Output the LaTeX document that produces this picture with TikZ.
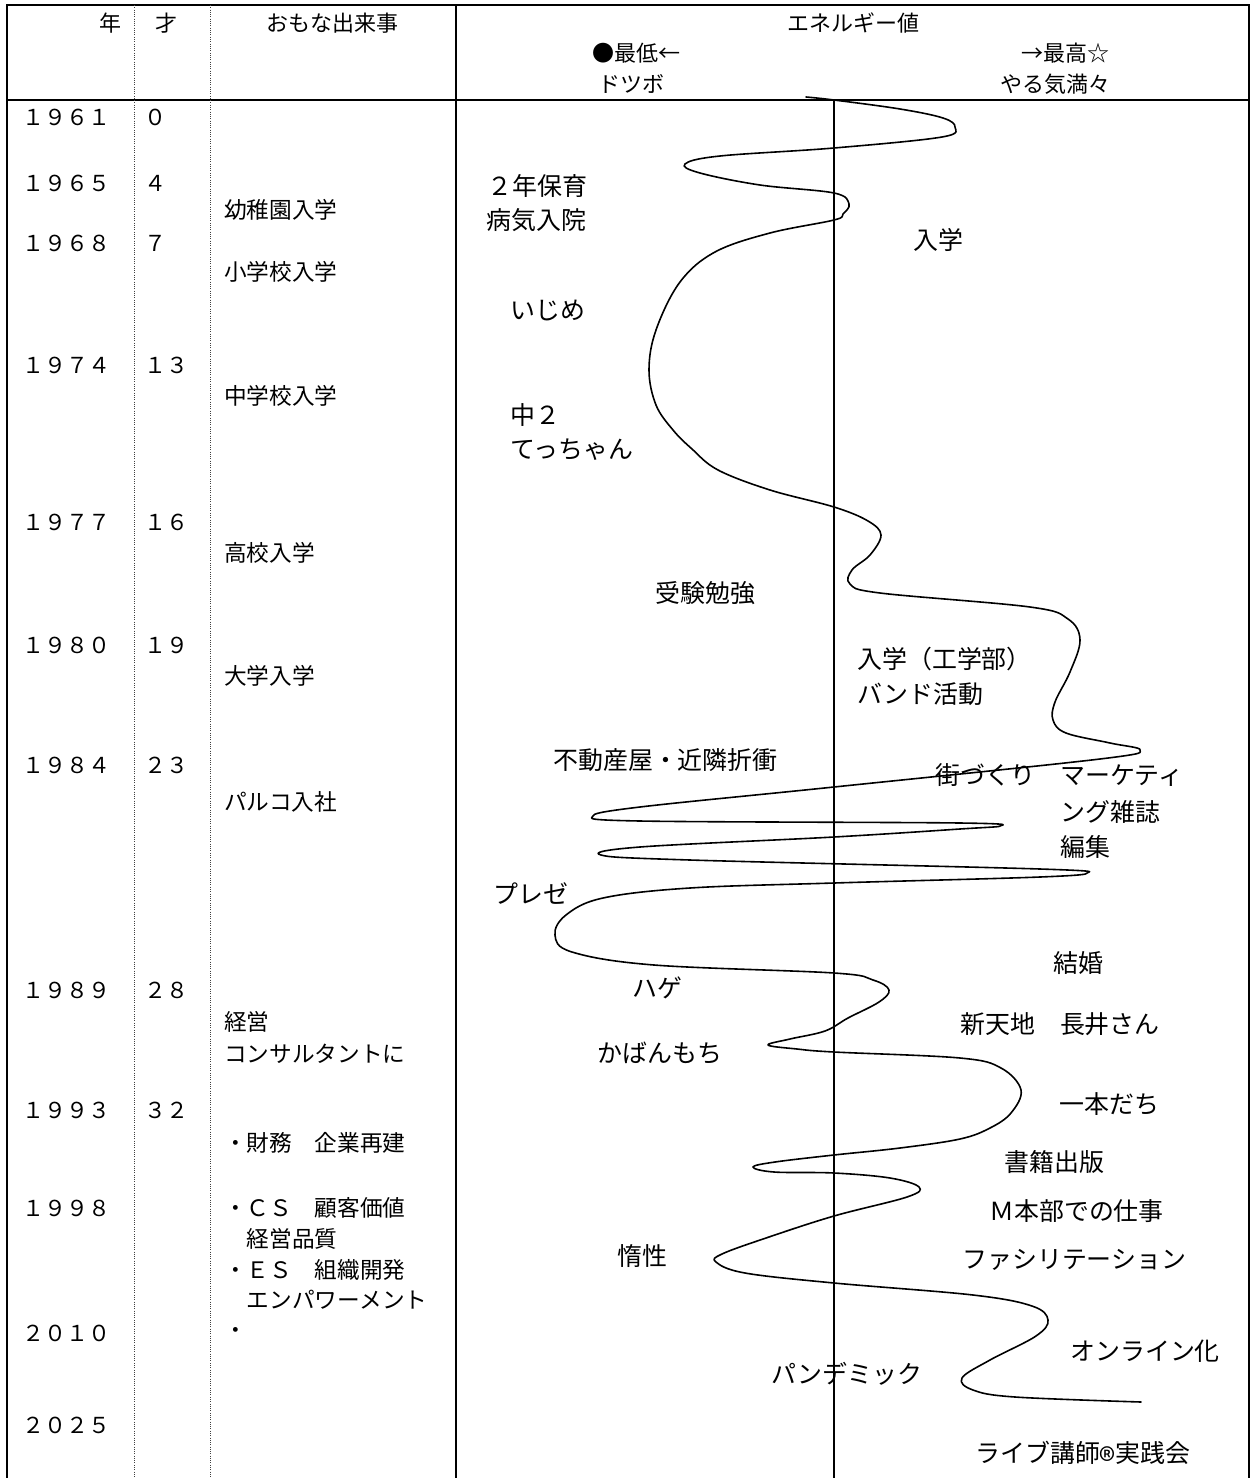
\documentclass[tikz,border=0pt]{standalone}
\usepackage{graphicx}
\usepackage{fontspec}
\setmainfont{Noto Sans CJK JP}
\begin{document}
\begin{tikzpicture}[x=0.75pt,y=-0.75pt,
  txt/.style={anchor=west,inner sep=0pt,font=\fontsize{16.5pt}{20pt}\selectfont},
  evt/.style={anchor=west,inner sep=0pt,font=\fontsize{17pt}{20pt}\selectfont},
  lbl/.style={anchor=west,inner sep=0pt,font=\fontsize{18.7pt}{22pt}\selectfont},
  ctxt/.style={anchor=center,inner sep=0pt,font=\fontsize{16.5pt}{20pt}\selectfont},
  frameline/.style={line width=1.6pt,line cap=rect},
  gridline/.style={line width=1.1pt},
  dotline/.style={densely dotted,line width=0.7pt,black!75},
  curveline/.style={line width=1.2pt,line join=round,line cap=round}]
\useasboundingbox (0,0) rectangle (1250,1478);
% frame
\draw[frameline] (7,1478) -- (7,5) -- (1249,5) -- (1249,1478);
\draw[frameline] (7,100) -- (1249,100);
\draw[gridline] (456,5) -- (456,1478);
\draw[dotline] (134,5) -- (134,1478);
\draw[dotline] (210,5) -- (210,1478);
\draw[gridline] (834,100) -- (834,1478);
% header
\node[ctxt] (hy) at (110,23) {年};
\node[ctxt] (ha) at (166,23) {才};
\node[ctxt] (he) at (332,23) {おもな出来事};
\node[ctxt] (hv) at (853,23) {エネルギー値};
\node[ctxt] (hl1) at (636,53) {●最低←};
\node[ctxt] (hl2) at (631,84) {ドツボ};
\node[ctxt] (hh1) at (1065,53) {→最高☆};
\node[ctxt] (hh2) at (1055,84) {やる気満々};
% years
\node[txt] (y1) at (22,117) {１９６１};
\node[txt] (y2) at (22,183) {１９６５};
\node[txt] (y3) at (22,243) {１９６８};
\node[txt] (y4) at (22,365) {１９７４};
\node[txt] (y5) at (22,522) {１９７７};
\node[txt] (y6) at (22,645) {１９８０};
\node[txt] (y7) at (22,765) {１９８４};
\node[txt] (y8) at (22,990) {１９８９};
\node[txt] (y9) at (22,1110) {１９９３};
\node[txt] (y10) at (22,1208) {１９９８};
\node[txt] (y11) at (22,1333) {２０１０};
\node[txt] (y12) at (22,1425) {２０２５};
% ages
\node[txt] (a1) at (144,117) {０};
\node[txt] (a2) at (144,183) {４};
\node[txt] (a3) at (144,243) {７};
\node[txt] (a4) at (144,365) {１３};
\node[txt] (a5) at (144,522) {１６};
\node[txt] (a6) at (144,645) {１９};
\node[txt] (a7) at (144,765) {２３};
\node[txt] (a8) at (144,990) {２８};
\node[txt] (a9) at (144,1110) {３２};
% events
\node[evt] (e1) at (224,210) {幼稚園入学};
\node[evt] (e2) at (224,272) {小学校入学};
\node[evt] (e3) at (224,396) {中学校入学};
\node[evt] (e4) at (224,553) {高校入学};
\node[evt] (e5) at (224,676) {大学入学};
\node[evt] (e6) at (224,802) {パルコ入社};
\node[evt] (e7) at (224,1022) {経営};
\node[evt] (e8) at (224,1054) {コンサルタントに};
\node[evt] (e9) at (224,1143) {・財務　企業再建};
\node[evt] (e10) at (224,1208) {・ＣＳ　顧客価値};
\node[evt] (e11) at (224,1239) {　経営品質};
\node[evt] (e12) at (224,1270) {・ＥＳ　組織開発};
\node[evt] (e13) at (224,1300) {　エンパワーメント};
\node[evt] (e14) at (224,1333) {・};
% energy labels
\node[lbl] (n1) at (487,186) {２年保育};
\node[lbl] (n2) at (486,220) {病気入院};
\node[lbl] (n3) at (913,240) {入学};
\node[lbl] (n4) at (510,310) {いじめ};
\node[lbl] (n5) at (510,415) {中２};
\node[lbl] (n6) at (510,450) {てっちゃん};
\node[lbl] (n7) at (655,593) {受験勉強};
\node[lbl] (n8) at (857,659) {入学（工学部）};
\node[lbl] (n9) at (857,694) {バンド活動};
\node[lbl] (n10) at (553,760) {不動産屋・近隣折衝};
\node[lbl] (n11) at (935,775) {街づくり};
\node[lbl] (n12) at (1060,776) {マーケティ};
\node[lbl] (n13) at (1060,812) {ング雑誌};
\node[lbl] (n14) at (1060,847) {編集};
\node[lbl] (n15) at (493,894) {プレゼ};
\node[lbl] (n16) at (1053,963) {結婚};
\node[lbl] (n17) at (632,988) {ハゲ};
\node[lbl] (n18) at (960,1024) {新天地　長井さん};
\node[lbl] (n19) at (597,1053) {かばんもち};
\node[lbl] (n20) at (1059,1104) {一本だち};
\node[lbl] (n21) at (1004,1162) {書籍出版};
\node[lbl] (n22) at (989,1211) {Ｍ本部での仕事};
\node[lbl] (n23) at (617,1256) {惰性};
\node[lbl] (n24) at (962,1260) {ファシリテーション};
\node[lbl] (n25) at (1070,1351) {オンライン化};
\node[lbl] (n26) at (771,1374) {パンデミック};
\node[lbl] (n27) at (975,1453) {ライブ講師\raisebox{-0.42em}[0pt][0pt]{\scalebox{1.35}{®}}実践会};
% energy curve
\draw[curveline] plot[smooth,tension=0.6] coordinates {
 (806,97) (834,100) (900,109) (943,118) (955,127) (942,137) (834,148)
 (720,156) (685,164) (700,173) (760,185) (834,193) (849,204) (843,214) (834,220)
 (770,233) (715,252) (680,282) (656,330) (649,370) (656,405) (673,430) (692,449)
 (718,470) (770,490) (834,507) (868,521) (881,535) (870,555) (852,570) (850,584)
 (880,593) (1030,607) (1068,619) (1080,640) (1070,672) (1055,702) (1053,720)
 (1066,733) (1110,743) (1140,750) (1100,759) (834,787) (640,807)
 (593,816) (640,821) (960,823) (1000,826) (960,829) (834,837)
 (640,847) (601,855) (690,860) (1040,869) (1087,873)
 (1040,877) (834,883) (690,888) (603,898) (566,915) (555,935) (572,952)
 (654,965) (834,973) (873,980) (889,990) (879,1002) (848,1018) (825,1031)
 (790,1039) (768,1045) (797,1049) (834,1052) (960,1058) (1001,1068) (1021,1090)
 (1011,1113) (990,1128) (960,1139) (900,1148) (834,1155) (775,1162) (753,1167)
 (774,1172) (834,1173) (890,1178) (919,1187) (907,1197) (834,1216) (766,1238)
 (722,1254) (716,1262) (745,1273) (834,1283) (973,1295) (1032,1306) (1048,1320)
 (1036,1336) (990,1360) (962,1378) (973,1390) (1015,1397) (1141,1402)};
\end{tikzpicture}
\end{document}
